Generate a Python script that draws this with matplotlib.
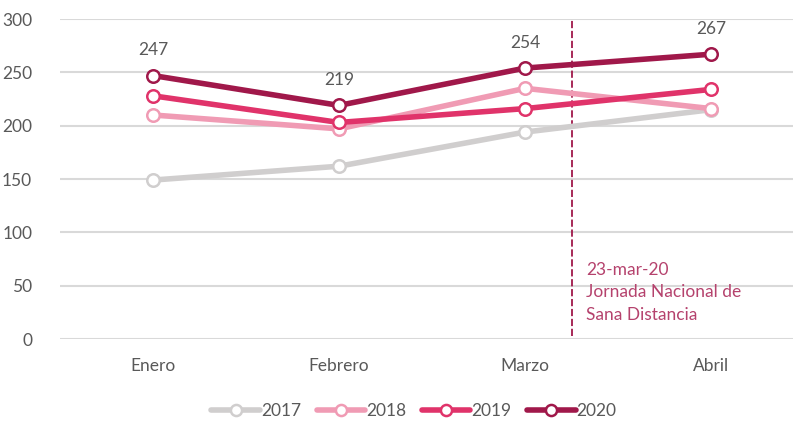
import matplotlib
import matplotlib.pyplot as plt
from matplotlib.lines import Line2D

plt.rcParams['font.family'] = ['Lato', 'DejaVu Sans']

## Data
meses = ['Enero', 'Febrero', 'Marzo', 'Abril']
anios = ['2017', '2018', '2019', '2020']
v2017 = [149, 162, 194, 215]
v2018 = [210, 197, 235, 216]
v2019 = [228, 203, 216, 234]
v2020 = [247, 219, 254, 267]
series = [v2017, v2018, v2019, v2020]
colores = ['#d0cece', '#f09bb4', '#e0336a', '#a0184a']

evento_x = 2.25
evento_txt = '23-mar-20\nJornada Nacional de\nSana Distancia'

gris = '#595959'

fig = plt.figure(figsize=(7.93, 4.21), dpi=100)
ax = fig.add_axes([60/793, 1 - 339/421, 1 - 60/793, 320/421])

x = list(range(len(meses)))
for vals, c in zip(series, colores):
    ax.plot(x, vals, color=c, lw=4, marker='o', ms=9, mfc='white',
            mec=c, mew=1.8, solid_capstyle='round', zorder=3)

# labels on 2020
for xi, v in zip(x, v2020):
    ax.text(xi, v + 16, str(v), ha='center', va='bottom', fontsize=12.5, color=gris)

# event line
ax.plot([evento_x, evento_x], [3, 299], color='#a0184a', lw=1.3,
        ls=(0, (4, 1.5)), zorder=2)
ax.text(evento_x + 0.08, 44, evento_txt, ha='left', va='center', fontsize=12.5,
        color='#b5426d', linespacing=1.5)

ax.set_xlim(-0.5, 3.44)
ax.set_ylim(0, 300)
ax.set_yticks(range(0, 301, 50))
ax.set_xticks(x)
ax.set_xticklabels(meses)
ax.grid(axis='y', color='#d9d9d9', lw=1.5, zorder=0)
ax.set_axisbelow(True)
for s in ax.spines.values():
    s.set_visible(False)
ax.tick_params(length=0, labelsize=12.5, colors=gris, pad=6)
ax.tick_params(axis='y', pad=20)
ax.tick_params(axis='x', pad=14)

handles = [Line2D([0], [0], color=c, lw=4, marker='o', ms=8, mfc='white',
                  mec=c, mew=1.8, solid_capstyle='round') for c in colores]
leg = fig.legend(handles, anios, loc='center', bbox_to_anchor=(414/793, 1 - 411/421),
                 ncol=4, frameon=False, fontsize=12.5, handlelength=2.8,
                 handletextpad=0.05, columnspacing=0.9)
for t in leg.get_texts():
    t.set_color(gris)

fig.savefig('out.png', dpi=100)
